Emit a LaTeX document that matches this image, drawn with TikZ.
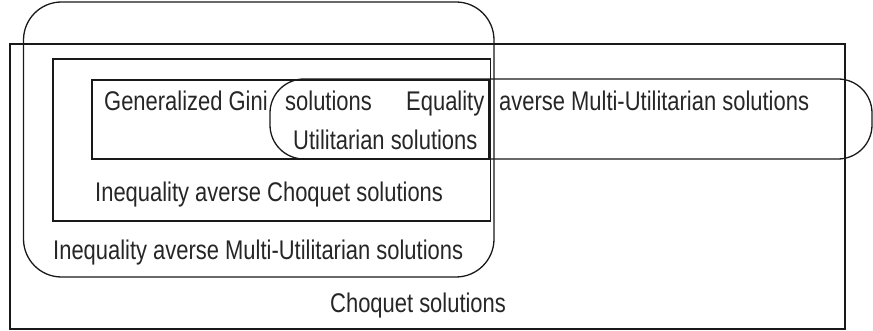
\documentclass[tikz,border=0pt]{standalone}
\usepackage{fontspec}
\setmainfont[FakeStretch=0.813]{Liberation Sans}
\begin{document}
\begin{tikzpicture}[x=1pt,y=-1pt,
  region/.style={draw=black!90,line width=1.3pt},
  lbl/.style={anchor=base west,inner sep=0pt,text=black!85,font=\fontsize{27}{30}\selectfont}]
\useasboundingbox (0,0) rectangle (873,331);
% Choquet solutions
\draw[region] (10,44) rectangle (845,329);
% Inequality averse Multi-Utilitarian solutions
\draw[region,rounded corners=38pt] (23.5,2) rectangle (494,277);
% Inequality averse Choquet solutions
\draw[region] (53,59) rectangle (490.8,221);
% Generalized Gini solutions
\draw[region] (92,80) rectangle (489,159);
% Equality averse Multi-Utilitarian solutions
\draw[region,rounded corners=34pt] (270,79) rectangle (872,159);
\node[lbl] (gg) at (104,111) {Generalized Gini};
\node[lbl] (sol) at (285,111) {solutions};
\node[lbl] (eq) at (406,111) {Equality};
\node[lbl] (amu) at (499,111) {averse Multi-Utilitarian solutions};
\node[lbl] (util) at (293,150) {Utilitarian solutions};
\node[lbl] (iac) at (95,201.5) {Inequality averse Choquet solutions};
\node[lbl] (iamu) at (53,260) {Inequality averse Multi-Utilitarian solutions};
\node[lbl] (cho) at (330,312.5) {Choquet solutions};
\end{tikzpicture}
\end{document}
